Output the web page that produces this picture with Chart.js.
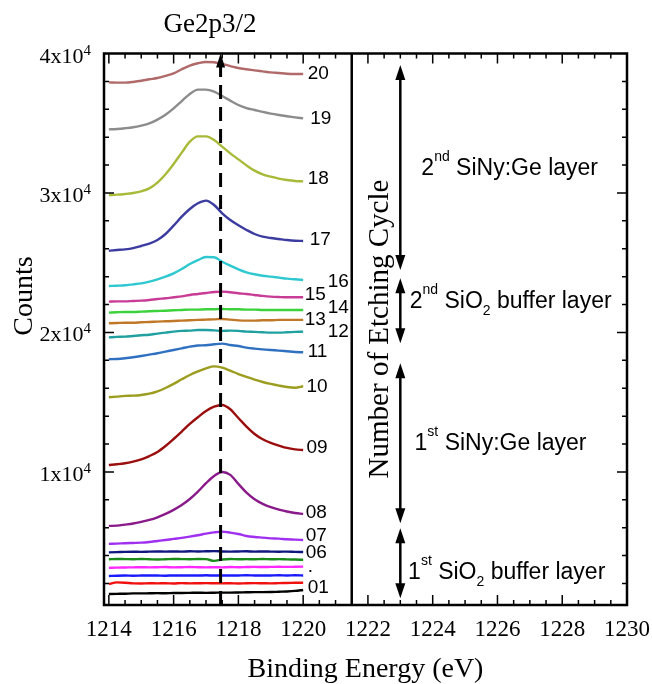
<!DOCTYPE html>
<html>
<head>
<meta charset="utf-8">
<script src="https://cdn.jsdelivr.net/npm/chart.js@4.4.1/dist/chart.umd.min.js"></script>
<style>
  body { margin: 0; background: #fff; }
  canvas { display: block; }
</style>
</head>
<body>
<canvas id="xps" width="652" height="684"></canvas>
<script>
// binding energy grid (eV) shared by all spectra
const energy = [1214, 1214.25, 1214.5, 1214.75, 1215, 1215.25, 1215.5, 1215.75, 1216, 1216.25, 1216.5, 1216.75,
  1217, 1217.25, 1217.5, 1217.75, 1218, 1218.25, 1218.5, 1218.75, 1219, 1219.25, 1219.5, 1219.75, 1220];

// counts per etching cycle (curves are stacked in the original)
const s01 = [1250, 1260, 1270, 1290, 1290, 1300, 1310, 1300, 1320, 1320, 1330, 1340, 1330, 1340, 1350, 1350, 1360, 1370, 1380, 1380, 1390, 1410, 1430, 1470, 1540];
const s02 = [1970, 2080, 2060, 2010, 2000, 2020, 2010, 2020, 2000, 2030, 2010, 2020, 2030, 2020, 2010, 2020, 2000, 2020, 2030, 2020, 2010, 2030, 2040, 2050, 2060];
const s03 = [2540, 2560, 2570, 2560, 2570, 2580, 2570, 2560, 2580, 2570, 2580, 2570, 2590, 2570, 2580, 2570, 2580, 2590, 2580, 2570, 2580, 2590, 2580, 2590, 2580];
const s04 = [3120, 3140, 3150, 3160, 3170, 3160, 3170, 3180, 3160, 3170, 3180, 3170, 3160, 3170, 3160, 3180, 3170, 3180, 3190, 3180, 3190, 3200, 3190, 3200, 3210];
const s05 = [3740, 3760, 3750, 3740, 3760, 3740, 3720, 3740, 3760, 3750, 3740, 3760, 3750, 3620, 3720, 3760, 3740, 3750, 3740, 3760, 3740, 3750, 3730, 3720, 3700];
const s06 = [4230, 4250, 4270, 4280, 4270, 4290, 4300, 4290, 4300, 4290, 4310, 4300, 4310, 4320, 4300, 4290, 4300, 4310, 4290, 4300, 4290, 4280, 4290, 4270, 4260];
const s07 = [4840, 4860, 4890, 4910, 4930, 4980, 5050, 5120, 5200, 5270, 5360, 5460, 5580, 5670, 5720, 5650, 5550, 5410, 5340, 5290, 5240, 5220, 5170, 5150, 5120];
const s08 = [6130, 6150, 6220, 6300, 6420, 6560, 6750, 6990, 7280, 7630, 8060, 8590, 9190, 9710, 10000, 9790, 9140, 8520, 8040, 7710, 7470, 7300, 7160, 7060, 6990];
const s09 = [10500, 10550, 10620, 10740, 10900, 11140, 11430, 11860, 12360, 12890, 13440, 13920, 14370, 14680, 14800, 14490, 13870, 13250, 12720, 12340, 12080, 11890, 11720, 11620, 11570];
const s10 = [15350, 15400, 15450, 15470, 15520, 15610, 15780, 16020, 16310, 16640, 16950, 17210, 17430, 17570, 17480, 17260, 17020, 16810, 16620, 16450, 16310, 16190, 16090, 16040, 16140];
const s11 = [18080, 18100, 18150, 18220, 18310, 18410, 18510, 18630, 18740, 18860, 18980, 19060, 19080, 19150, 19200, 19100, 19030, 18910, 18840, 18790, 18740, 18700, 18650, 18600, 18580];
const s12 = [19650, 19680, 19700, 19750, 19800, 19840, 19920, 19990, 20060, 20110, 20130, 20180, 20180, 20150, 20110, 20130, 20110, 20060, 20040, 20010, 19990, 19990, 20010, 20040, 20060];
const s13 = [20660, 20680, 20700, 20700, 20730, 20750, 20780, 20800, 20820, 20850, 20870, 20900, 20920, 20940, 20970, 20920, 20870, 20850, 20850, 20870, 20870, 20900, 20900, 20900, 20900];
const s14 = [21420, 21450, 21470, 21470, 21490, 21520, 21540, 21560, 21590, 21610, 21640, 21640, 21660, 21660, 21680, 21660, 21660, 21640, 21640, 21610, 21610, 21610, 21610, 21610, 21610];
const s15 = [22210, 22230, 22230, 22260, 22280, 22330, 22400, 22450, 22520, 22590, 22690, 22760, 22830, 22900, 22930, 22880, 22810, 22760, 22690, 22620, 22570, 22540, 22520, 22520, 22520];
const s16 = [23330, 23350, 23380, 23450, 23520, 23640, 23810, 24000, 24240, 24550, 24910, 25190, 25410, 25390, 25070, 24790, 24530, 24310, 24170, 24070, 24000, 23930, 23860, 23810, 23760];
const s17 = [25860, 25910, 25960, 26050, 26200, 26370, 26630, 27060, 27660, 28300, 28850, 29260, 29450, 29140, 28540, 28060, 27680, 27350, 27060, 26870, 26770, 26700, 26630, 26580, 26560];
const s18 = [29850, 29880, 29930, 30000, 30120, 30330, 30740, 31340, 32080, 32890, 33680, 34060, 34060, 33800, 33320, 32840, 32410, 31980, 31600, 31340, 31170, 31030, 30930, 30860, 30830];
const s19 = [34560, 34590, 34640, 34710, 34830, 34990, 35260, 35610, 36070, 36590, 37100, 37410, 37410, 37260, 36950, 36620, 36310, 36090, 35950, 35810, 35690, 35590, 35500, 35420, 35350];
const s20 = [37930, 37910, 37910, 37960, 38050, 38150, 38240, 38390, 38580, 38870, 39130, 39300, 39390, 39370, 39250, 39100, 38960, 38870, 38790, 38720, 38650, 38600, 38550, 38530, 38530];

const series = [s01, s02, s03, s04, s05, s06, s07, s08, s09, s10, s11, s12, s13, s14, s15, s16, s17, s18, s19, s20];
const colors = ['#000000', '#f01010', '#1a1aff', '#ff28ff', '#1a8a1a', '#101880', '#a030f0', '#8a1a8a', '#9b0e0e', '#9c9c1e',
  '#3070c0', '#20a0a0', '#c07828', '#3cd23c', '#c83c96', '#30c8d0', '#3c3ca0', '#a9b938', '#8c8c8c', '#b06a6a'];

// cycle labels next to the curves
const labelText = ['20', '19', '18', '17', '16', '15', '14', '13', '12', '11', '10', '09', '08', '07', '06', '.', '01'];
const labelE = [1220.14, 1220.22, 1220.14, 1220.2, 1220.76, 1220.05, 1220.76, 1220.05, 1220.76, 1220.14, 1220.1, 1220.1, 1220.08, 1220.08, 1220.08, 1220.14, 1220.14];
const labelC = [38580, 35355, 31054, 26631, 23642, 22688, 21735, 20896, 20057, 18624, 16115, 11699, 7082, 5412, 4172, 3168, 1663];

// axis ticks
const xTickLabels = [1214, 1216, 1218, 1220, 1222, 1224, 1226, 1228, 1230];
const yTickValues = [10000, 20000, 30000, 40000];
const yTickMantissa = ['1', '2', '3', '4'];

// layer ranges (counts) and their captions
const layerArrows = [[39180, 24480], [23890, 19230], [17790, 6320], [5960, 950]];
const layerOrd = ['2', '2', '1', '1'];
const layerSup = ['nd', 'nd', 'st', 'st'];
const layerName = ['SiNy:Ge layer', 'SiO2 buffer layer', 'SiNy:Ge layer', 'SiO2 buffer layer'];
const layerTextE = [1223.65, 1223.29, 1223.44, 1223.24];
const layerTextC = [31290, 21735, 11577, 2308];

const peakE = 1217.45;
const splitE = 1221.5;
const arrowE = 1223;

const SERIF = '"Liberation Serif", "Times New Roman", serif';
const SANS = '"Liberation Sans", Arial, sans-serif';

function runs(ctx, parts, x0, y0, align) {
  let w = 0;
  parts.forEach(p => { ctx.font = p.font; w += ctx.measureText(p.t).width; });
  let x = align === 'right' ? x0 - w : align === 'center' ? x0 - w / 2 : x0;
  ctx.textAlign = 'left';
  ctx.textBaseline = 'alphabetic';
  parts.forEach(p => {
    ctx.font = p.font;
    ctx.fillText(p.t, x, y0 + (p.dy || 0));
    x += ctx.measureText(p.t).width;
  });
}

function head(ctx, x, tipY, dir, len, half) {
  ctx.beginPath();
  ctx.moveTo(x, tipY);
  ctx.lineTo(x - half, tipY + dir * len);
  ctx.lineTo(x + half, tipY + dir * len);
  ctx.closePath();
  ctx.fill();
}

const decor = {
  id: 'decor',
  afterDraw(chart) {
    const { ctx, chartArea: a, scales: { x, y } } = chart;
    ctx.save();
    ctx.fillStyle = '#000';
    ctx.strokeStyle = '#000';

    // ticks, inward on all four sides
    ctx.lineWidth = 1.5;
    ctx.beginPath();
    for (let k = 0; k <= 32; k++) {
      const px = x.getPixelForValue(1214 + k * 0.5);
      const len = k % 4 === 0 ? 10 : 5;
      ctx.moveTo(px, a.bottom); ctx.lineTo(px, a.bottom - len);
      ctx.moveTo(px, a.top); ctx.lineTo(px, a.top + len);
    }
    for (let k = 1; k < 20; k++) {
      const py = y.getPixelForValue(k * 2000);
      const len = k % 5 === 0 ? 10 : 5;
      ctx.moveTo(a.left, py); ctx.lineTo(a.left + len, py);
      ctx.moveTo(a.right, py); ctx.lineTo(a.right - len, py);
    }
    ctx.stroke();

    // frame and panel split
    ctx.lineWidth = 2.5;
    ctx.strokeRect(a.left, a.top, a.right - a.left, a.bottom - a.top);
    const sx = x.getPixelForValue(splitE);
    ctx.beginPath();
    ctx.moveTo(sx, a.top); ctx.lineTo(sx, a.bottom);
    ctx.stroke();

    // dashed peak marker with arrow
    const dx = x.getPixelForValue(peakE);
    ctx.lineWidth = 3;
    ctx.setLineDash([14, 8]);
    ctx.beginPath();
    ctx.moveTo(dx, a.bottom); ctx.lineTo(dx, a.top + 12);
    ctx.stroke();
    ctx.setLineDash([]);
    head(ctx, dx, a.top, 1, 14, 4.5);

    // layer arrows
    const ax = x.getPixelForValue(arrowE);
    ctx.lineWidth = 2.5;
    layerArrows.forEach(r => {
      const y1 = y.getPixelForValue(r[0]);
      const y2 = y.getPixelForValue(r[1]);
      ctx.beginPath();
      ctx.moveTo(ax, y1 + 10); ctx.lineTo(ax, y2 - 10);
      ctx.stroke();
      head(ctx, ax, y1, 1, 15, 5);
      head(ctx, ax, y2, -1, 15, 5);
    });

    // layer captions
    layerName.forEach((name, i) => {
      const tx = x.getPixelForValue(layerTextE[i]);
      const ty = y.getPixelForValue(layerTextC[i]);
      const parts = [
        { t: layerOrd[i], font: '23px ' + SANS },
        { t: layerSup[i], font: '14px ' + SANS, dy: -14 }
      ];
      if (name.startsWith('SiO2')) {
        parts.push({ t: ' SiO', font: '23px ' + SANS });
        parts.push({ t: '2', font: '14px ' + SANS, dy: 7 });
        parts.push({ t: name.slice(4), font: '23px ' + SANS });
      } else {
        parts.push({ t: ' ' + name, font: '23px ' + SANS });
      }
      runs(ctx, parts, tx, ty, 'left');
    });

    // curve labels
    ctx.font = '19px ' + SANS;
    ctx.textAlign = 'left';
    ctx.textBaseline = 'middle';
    labelText.forEach((t, i) => {
      ctx.fillText(t, x.getPixelForValue(labelE[i]), y.getPixelForValue(labelC[i]));
    });

    // x tick labels
    ctx.font = '23px ' + SERIF;
    ctx.textAlign = 'center';
    ctx.textBaseline = 'alphabetic';
    xTickLabels.forEach(v => ctx.fillText(String(v), x.getPixelForValue(v), a.bottom + 31));

    // y tick labels  (n x 10^4)
    yTickValues.forEach((v, i) => {
      const py = y.getPixelForValue(v);
      runs(ctx, [
        { t: yTickMantissa[i] + 'x10', font: '22px ' + SERIF },
        { t: '4', font: '15px ' + SERIF, dy: -8 }
      ], a.left - 13, py + 9, 'right');
    });

    // titles
    ctx.font = '27px ' + SERIF;
    ctx.textAlign = 'center';
    ctx.fillText('Ge2p3/2', 210, 32);
    ctx.font = '28px ' + SERIF;
    ctx.fillText('Binding Energy (eV)', (a.left + a.right) / 2, 677);

    ctx.save();
    ctx.translate(32, 296);
    ctx.rotate(-Math.PI / 2);
    ctx.fillText('Counts', 0, 0);
    ctx.restore();

    ctx.save();
    ctx.font = '29px ' + SERIF;
    ctx.translate(388, 329);
    ctx.rotate(-Math.PI / 2);
    ctx.fillText('Number of Etching Cycle', 0, 0);
    ctx.restore();

    ctx.restore();
  }
};

const datasets = series.map((vals, i) => ({
  label: 'cycle ' + (i + 1),
  data: energy.map((e, j) => ({ x: e, y: vals[j] })),
  borderColor: colors[i],
  borderWidth: 2.4,
  pointRadius: 0,
  cubicInterpolationMode: 'monotone',
  fill: false
}));

new Chart(document.getElementById('xps'), {
  type: 'line',
  data: { datasets: datasets },
  options: {
    responsive: false,
    animation: false,
    devicePixelRatio: 1,
    layout: { padding: { top: 53.5, right: 25, left: 0, bottom: 0 } },
    plugins: { legend: { display: false }, tooltip: { enabled: false } },
    scales: {
      x: {
        type: 'linear',
        min: 1213.85,
        max: 1230,
        ticks: { display: false },
        grid: { display: false },
        border: { display: false },
        afterFit: s => { s.height = 79; }
      },
      y: {
        min: 460,
        max: 40000,
        ticks: { display: false },
        grid: { display: false },
        border: { display: false },
        afterFit: s => { s.width = 104; }
      }
    }
  },
  plugins: [decor]
});
</script>
</body>
</html>
